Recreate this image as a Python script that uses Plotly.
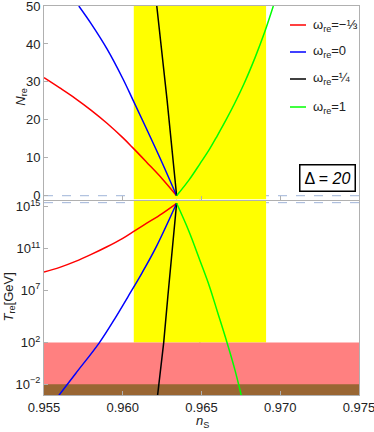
import plotly.graph_objects as go
from plotly.subplots import make_subplots

# ---------------- data ----------------
# top panel: N_re vs n_S
ns_red_top = [0.955, 0.956, 0.957, 0.958, 0.959, 0.960, 0.9606, 0.9615, 0.9625, 0.96342]
N_red = [31.1, 28.4, 25.6, 22.5, 19.1, 15.3, 12.8, 8.9, 4.5, 0.0]
ns_blue_top = [0.95721, 0.958, 0.959, 0.960, 0.96063, 0.9615, 0.9625, 0.96342]
N_blue = [50.0, 45.3, 38.7, 30.9, 25.4, 17.7, 8.7, 0.0]
ns_black_top = [0.96216, 0.96281, 0.96342]
N_black = [50.0, 25.4, 0.0]
ns_green_top = [0.96342, 0.9642, 0.9649, 0.9655, 0.9660, 0.9666, 0.9671, 0.9677, 0.9684, 0.9690, 0.96956]
N_green = [0.0, 4.1, 8.4, 12.2, 15.8, 20.3, 24.3, 29.5, 36.4, 43.0, 50.0]

# bottom panel: log10(T_re / GeV) vs n_S
ns_red_bot = [0.955, 0.956, 0.957, 0.958, 0.959, 0.960, 0.9606, 0.9615, 0.9625, 0.96342]
logT_red = [8.75, 9.2, 9.77, 10.44, 11.17, 11.98, 12.55, 13.4, 14.35, 15.33]
ns_blue_bot = [0.95587, 0.957, 0.95852, 0.9595, 0.96032, 0.9612, 0.9621, 0.96342]
logT_blue = [-3.2, -0.98, 2.0, 4.3, 6.36, 8.6, 11.08, 15.33]
ns_black_bot = [0.9622, 0.96260, 0.96286, 0.96342]
logT_black = [-3.2, 2.0, 6.36, 15.33]
ns_green_bot = [0.96342, 0.9642, 0.9649, 0.9655, 0.9660, 0.9666, 0.9671, 0.96755]
logT_green = [15.33, 12.66, 9.86, 7.4, 5.0, 2.1, -0.5, -3.2]

labels = ["ω<sub>re</sub>=−⅓", "ω<sub>re</sub>=0", "ω<sub>re</sub>=¼", "ω<sub>re</sub>=1"]
colors = ["#ff0000", "#0000ff", "#000000", "#00ff00"]

x_ticks = [0.955, 0.960, 0.965, 0.970, 0.975]
x_tick_text = ["0.955", "0.960", "0.965", "0.970", "0.975"]
N_ticks = [0, 10, 20, 30, 40, 50]
logT_ticks = [-2, 2, 7, 11, 15]
logT_tick_text = ["10<sup>−2</sup>", "10<sup>2</sup>", "10<sup>7</sup>", "10<sup>11</sup>", "10<sup>15</sup>"]

ns_planck_lo, ns_planck_hi, ns_planck = 0.9607, 0.9691, 0.9649
ns_conv = 0.96342
logT_max = 15.39
logT_pink, logT_brown = 2.0, -2.0
x_range = [0.955, 0.975]
N_range = [-1.0, 50.0]
logT_range = [-3.02, 15.55]

# ---------------- figure ----------------
W, H = 374, 432
ml, mr, mt, mb = 44, 15, 6, 37
pw, ph = W - ml - mr, H - mt - mb

def px2x(px):
    return (px - ml) / pw

def py2y(py):
    return (H - mb - py) / ph

fig = make_subplots(rows=2, cols=1, shared_xaxes=False, vertical_spacing=0.0)

tops = [(ns_red_top, N_red), (ns_blue_top, N_blue), (ns_black_top, N_black), (ns_green_top, N_green)]
bots = [(ns_red_bot, logT_red), (ns_blue_bot, logT_blue), (ns_black_bot, logT_black), (ns_green_bot, logT_green)]

for (xs, ys), c in zip(tops, colors):
    shape = "linear" if c == "#000000" else "spline"
    fig.add_trace(go.Scatter(x=xs, y=ys, mode="lines", showlegend=False,
                             line=dict(color=c, width=1.5, shape=shape, smoothing=1.0)), row=1, col=1)
for (xs, ys), c in zip(bots, colors):
    shape = "linear" if c == "#000000" else "spline"
    fig.add_trace(go.Scatter(x=xs, y=[10 ** v for v in ys], mode="lines", showlegend=False,
                             line=dict(color=c, width=1.5, shape=shape, smoothing=1.0)), row=2, col=1)

shapes = []
# yellow Planck band
shapes.append(dict(type="rect", xref="x", yref="y", x0=ns_planck_lo, x1=ns_planck_hi,
                   y0=N_range[0], y1=N_range[1], fillcolor="#ffff00", line_width=0, layer="below"))
shapes.append(dict(type="rect", xref="x2", yref="y2", x0=ns_planck_lo, x1=ns_planck_hi,
                   y0=10 ** logT_pink, y1=10 ** logT_range[1], fillcolor="#ffff00", line_width=0, layer="below"))
# pink / brown bands
shapes.append(dict(type="rect", xref="x2", yref="y2", x0=x_range[0], x1=x_range[1],
                   y0=10 ** logT_range[0], y1=10 ** logT_pink, fillcolor="#ff8080", line_width=0, layer="below"))
shapes.append(dict(type="rect", xref="x2", yref="y2", x0=x_range[0], x1=x_range[1],
                   y0=10 ** logT_range[0], y1=10 ** logT_brown, fillcolor="#996633", line_width=0, layer="below"))
# Planck central value (solid gray) and convergence point (dashed gray)
for xr, yr in (("x", "y domain"), ("x2", "y2 domain")):
    shapes.append(dict(type="line", xref=xr, yref=yr, x0=ns_planck, x1=ns_planck, y0=0, y1=1,
                       line=dict(color="#9a9a9a", width=1), layer="below"))
    shapes.append(dict(type="line", xref=xr, yref=yr, x0=ns_conv, x1=ns_conv, y0=0, y1=1,
                       line=dict(color="#aaaaaa", width=1, dash="dash"), layer="below"))
# horizontal dashed reference lines
shapes.append(dict(type="line", xref="x domain", yref="y", x0=0, x1=1, y0=0, y1=0,
                   line=dict(color="#9fb4d8", width=1, dash="dash"), layer="below"))
shapes.append(dict(type="line", xref="x2 domain", yref="y2", x0=0, x1=1, y0=10 ** logT_max, y1=10 ** logT_max,
                   line=dict(color="#9fb4d8", width=1, dash="dash"), layer="below"))

# manual legend
leg_y = [25, 52, 79, 107]
annotations = []
for lab, c, yy in zip(labels, colors, leg_y):
    shapes.append(dict(type="line", xref="paper", yref="paper", x0=px2x(290), x1=px2x(306),
                       y0=py2y(yy), y1=py2y(yy), line=dict(color=c, width=1.5)))
    annotations.append(dict(xref="paper", yref="paper", x=px2x(311), y=py2y(yy), text=lab,
                            showarrow=False, xanchor="left", yanchor="middle",
                            font=dict(family="Liberation Sans", size=13, color="#222")))

annotations.append(dict(xref="paper", yref="paper", x=px2x(327.5), y=py2y(177.5),
                        text="Δ = <i>20</i>", showarrow=False, xanchor="center", yanchor="middle",
                        bordercolor="#000", borderwidth=1.5, borderpad=4, bgcolor="#ffffff",
                        font=dict(family="Liberation Sans", size=16, color="#000")))
annotations.append(dict(xref="paper", yref="paper", x=px2x(21.7), y=py2y(97), text="<i>N</i><sub>re</sub>",
                        showarrow=False, textangle=-90, xanchor="center", yanchor="middle",
                        font=dict(family="Liberation Sans", size=13, color="#222")))
annotations.append(dict(xref="paper", yref="paper", x=px2x(8.5), y=py2y(297), text="<i>T</i><sub>re</sub>[GeV]",
                        showarrow=False, textangle=-90, xanchor="center", yanchor="middle",
                        font=dict(family="Liberation Sans", size=13, color="#222")))
annotations.append(dict(xref="paper", yref="paper", x=px2x(202), y=py2y(422), text="<i>n</i><sub>S</sub>",
                        showarrow=False, xanchor="center", yanchor="middle",
                        font=dict(family="Liberation Sans", size=13, color="#222")))

axis_common = dict(showgrid=False, zeroline=False, showline=True, linecolor="#b0b0b0", linewidth=1,
                   mirror=True, ticks="inside", ticklen=4, tickcolor="#b0b0b0", automargin=False,
                   ticklabeloverflow="allow",
                   tickfont=dict(family="Liberation Sans", size=13, color="#222"))

fig.update_layout(
    width=W, height=H, margin=dict(l=ml, r=mr, t=mt, b=mb, autoexpand=False),
    plot_bgcolor="#ffffff", paper_bgcolor="#ffffff", showlegend=False,
    shapes=shapes, annotations=annotations,
    xaxis=dict(axis_common, range=x_range, tickvals=x_ticks, showticklabels=False,
               domain=[0, 1], anchor="y"),
    yaxis=dict(axis_common, range=N_range, tickvals=N_ticks, domain=[py2y(199.5), 1.0], anchor="x"),
    xaxis2=dict(axis_common, range=x_range, tickvals=x_ticks, ticktext=x_tick_text,
                domain=[0, 1], anchor="y2"),
    yaxis2=dict(axis_common, type="log", range=logT_range, tickvals=[10 ** v for v in logT_ticks],
                ticktext=logT_tick_text, domain=[0.0, py2y(201)], anchor="x2"),
)

fig.write_html("out.html", config={"displayModeBar": False},
               post_script="document.body.style.margin='0px';document.body.style.overflow='hidden';")
